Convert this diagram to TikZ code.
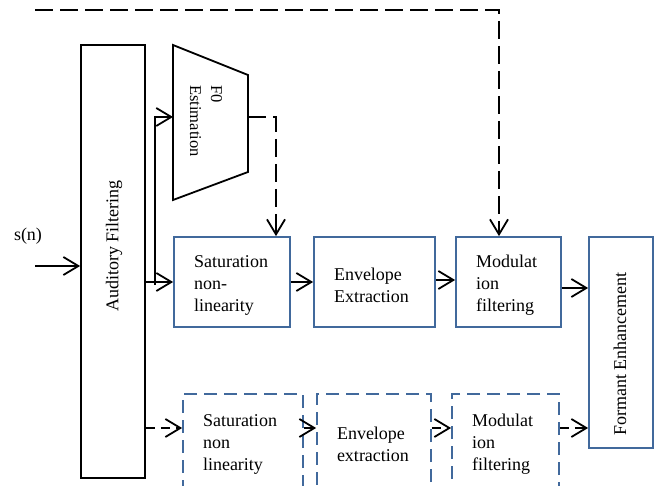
\documentclass[tikz,border=0pt]{standalone}
\usepackage{fontspec}
\setmainfont{Liberation Serif}
\usetikzlibrary{arrows.meta}
\definecolor{boxblue}{RGB}{65,105,156}
\tikzset{
  ln/.style={line width=1.8pt, draw=black},
  arr/.style={ln, -{Straight Barb[length=15pt,width=18pt]}},
  darr/.style={arr, dash pattern=on 18pt off 7pt},
  sdarr/.style={arr, dash pattern=on 9pt off 6pt},
  txt/.style={font=\fontsize{18}{21.7}\selectfont, inner sep=0pt},
  bbox/.style={draw=boxblue, line width=1.8pt, rectangle, inner xsep=20pt, inner ysep=0pt,
     align=left, font=\fontsize{18}{21.7}\selectfont},
  tbox/.style={bbox, execute at begin node={\rule{0pt}{19pt}}},
  dbox/.style={tbox, dash pattern=on 13pt off 7pt},
  kbox/.style={ln, rectangle, inner sep=0pt},
}
\begin{document}
\begin{tikzpicture}[x=1pt,y=-1pt]
\useasboundingbox (0,0) rectangle (655,486);
\clip (0,0) rectangle (655,486);
% auditory filtering
\node[kbox, minimum width=64pt, minimum height=433pt] (aud) at (113,261.5) {};
\node[txt, rotate=90] (audt) at (114,246) {Auditory Filtering};
% F0 estimation trapezoid
\draw[ln] (173,45) -- (248,75) -- (248,172) -- (173,200) -- cycle;
\coordinate (f0in) at (173,117);
\coordinate (f0out) at (248,117);
\node[txt, rotate=-90, align=left, font=\fontsize{16.5}{21}\selectfont] (f0) at (206,121) {F0\\Estimation};
% top row
\node[tbox, text width=76pt, minimum height=90pt] (sat) at (232,282) {Saturation\\non-\\linearity};
\node[tbox, text width=81pt, minimum height=90pt] (env) at (374.5,282) {Envelope\\Extraction};
\node[tbox, text width=65pt, minimum height=90pt] (mod) at (508.5,282) {Modulat\\ion\\filtering};
% formant
\node[bbox, inner sep=0pt, minimum width=64pt, minimum height=211pt] (forn) at (621,342.5) {};
\node[txt, rotate=90] (fornt) at (620,354) {Formant Enhancement};
% bottom row
\node[dbox, text width=80pt, minimum height=94pt] (satb) at (243,441) {Saturation\\non\\linearity};
\node[dbox, text width=74pt, minimum height=94pt] (envb) at (374,441) {Envelope\\extraction};
\node[dbox, text width=67pt, minimum height=94pt] (modb) at (505.5,441) {Modulat\\ion\\filtering};
% input
\node[txt] (sn) at (28,236) {s(n)};
\coordinate (sin) at (35,266);
\draw[arr] (sin) -- (sin -| aud.west);
% top connections
\coordinate (br) at (155,282);
\draw[arr] (aud.east |- sat.west) -- (sat.west);
\draw[arr] ([yshift=-3pt]br) |- (f0in);
\draw[arr] (sat.east) -- (env.west);
\draw[arr] ([yshift=2pt]env.east) coordinate (e1) -- (e1 -| mod.west);
\draw[arr] ([yshift=-6pt]mod.east) coordinate (m1) -- (m1 -| forn.west);
\coordinate (tl) at (35,10);
\draw[darr] (tl) -| ([xshift=-9.5pt]mod.north);
\draw[darr] (f0out) -| ([xshift=44pt]sat.north);
% bottom connections
\draw[sdarr] ([yshift=13pt]satb.west -| aud.east) coordinate (a1) -- (a1 -| satb.west);
\draw[sdarr] ([yshift=13pt]satb.east) coordinate (b1) -- (b1 -| envb.west);
\draw[sdarr] ([yshift=13pt]envb.east) coordinate (b2) -- (b2 -| modb.west);
\draw[sdarr] ([yshift=13pt]modb.east) coordinate (b3) -- (b3 -| forn.west);
\end{tikzpicture}
\end{document}
